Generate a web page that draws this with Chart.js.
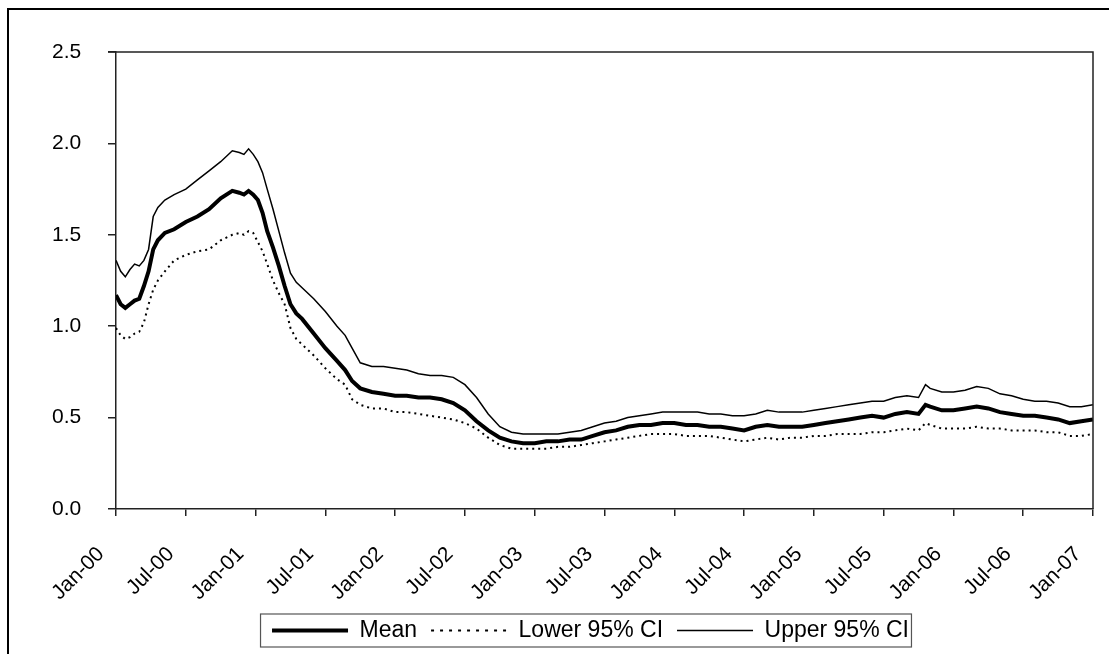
<!DOCTYPE html>
<html>
<head>
<meta charset="utf-8">
<script src="https://cdn.jsdelivr.net/npm/chart.js@4.4.1/dist/chart.umd.min.js"></script>
<style>
html, body { margin: 0; padding: 0; background: #fff; }
</style>
</head>
<body>
<canvas id="chart" width="1109" height="654"></canvas>
<script>
// months since Jan-00
var months = [0, 0.4, 0.8, 1.2, 1.6, 2.0, 2.4, 2.8, 3.2, 3.6, 4.2, 5, 6, 7, 8, 9, 10, 10.6, 11, 11.4, 11.8,
  12.2, 12.6, 13, 13.5, 14, 14.5, 15, 15.5, 16, 17, 18, 19, 19.7, 20.3, 21, 22, 23, 24, 25, 26, 27, 28, 29,
  30, 31, 32, 33, 34, 35, 36, 37, 38, 39, 40, 41, 42, 43, 44, 45, 46, 47, 48, 49, 50, 51, 52, 53, 54, 55,
  56, 57, 58, 59, 60, 61, 62, 63, 64, 65, 66, 67, 68, 69, 69.6, 70, 71, 72, 73, 74, 75, 76, 77, 78, 79, 80,
  81, 82, 83, 84];

var meanVals = [1.17, 1.12, 1.10, 1.12, 1.14, 1.15, 1.22, 1.30, 1.42, 1.47, 1.51, 1.53, 1.57, 1.60, 1.64, 1.70, 1.74, 1.73, 1.72, 1.74, 1.72,
  1.69, 1.62, 1.52, 1.43, 1.33, 1.22, 1.12, 1.07, 1.04, 0.96, 0.88, 0.81, 0.76, 0.70, 0.66, 0.64, 0.63, 0.62, 0.62, 0.61, 0.61, 0.60, 0.58,
  0.54, 0.48, 0.43, 0.39, 0.37, 0.36, 0.36, 0.37, 0.37, 0.38, 0.38, 0.40, 0.42, 0.43, 0.45, 0.46, 0.46, 0.47, 0.47, 0.46, 0.46, 0.45, 0.45, 0.44, 0.43, 0.45,
  0.46, 0.45, 0.45, 0.45, 0.46, 0.47, 0.48, 0.49, 0.50, 0.51, 0.50, 0.52, 0.53, 0.52, 0.57, 0.56, 0.54, 0.54, 0.55, 0.56, 0.55, 0.53, 0.52, 0.51, 0.51, 0.50,
  0.49, 0.47, 0.48, 0.49];

var lowerVals = [0.99, 0.95, 0.93, 0.94, 0.96, 0.97, 1.02, 1.12, 1.20, 1.25, 1.30, 1.36, 1.39, 1.41, 1.42, 1.47, 1.50, 1.51, 1.50, 1.52, 1.51,
  1.46, 1.41, 1.34, 1.25, 1.18, 1.12, 0.99, 0.93, 0.90, 0.84, 0.77, 0.71, 0.68, 0.60, 0.57, 0.55, 0.55, 0.53, 0.53, 0.52, 0.51, 0.50, 0.49,
  0.47, 0.44, 0.39, 0.35, 0.33, 0.33, 0.33, 0.33, 0.34, 0.34, 0.35, 0.36, 0.37, 0.38, 0.39, 0.40, 0.41, 0.41, 0.41, 0.40, 0.40, 0.40, 0.39, 0.38, 0.37, 0.38,
  0.39, 0.38, 0.39, 0.39, 0.40, 0.40, 0.41, 0.41, 0.41, 0.42, 0.42, 0.43, 0.44, 0.43, 0.47, 0.46, 0.44, 0.44, 0.44, 0.45, 0.44, 0.44, 0.43, 0.43, 0.43, 0.42,
  0.42, 0.40, 0.40, 0.41];

var upperVals = [1.36, 1.30, 1.27, 1.31, 1.34, 1.33, 1.36, 1.42, 1.60, 1.65, 1.69, 1.72, 1.75, 1.80, 1.85, 1.90, 1.96, 1.95, 1.94, 1.97, 1.94,
  1.90, 1.84, 1.75, 1.64, 1.52, 1.40, 1.29, 1.24, 1.21, 1.15, 1.08, 1.00, 0.95, 0.88, 0.80, 0.78, 0.78, 0.77, 0.76, 0.74, 0.73, 0.73, 0.72,
  0.68, 0.61, 0.52, 0.45, 0.42, 0.41, 0.41, 0.41, 0.41, 0.42, 0.43, 0.45, 0.47, 0.48, 0.50, 0.51, 0.52, 0.53, 0.53, 0.53, 0.53, 0.52, 0.52, 0.51, 0.51, 0.52,
  0.54, 0.53, 0.53, 0.53, 0.54, 0.55, 0.56, 0.57, 0.58, 0.59, 0.59, 0.61, 0.62, 0.61, 0.68, 0.66, 0.64, 0.64, 0.65, 0.67, 0.66, 0.63, 0.62, 0.60, 0.59, 0.59,
  0.58, 0.56, 0.56, 0.57];

var tickLabels = ['Jan-00', 'Jul-00', 'Jan-01', 'Jul-01', 'Jan-02', 'Jul-02', 'Jan-03', 'Jul-03',
  'Jan-04', 'Jul-04', 'Jan-05', 'Jul-05', 'Jan-06', 'Jul-06', 'Jan-07'];

function toPoints(vals) {
  return vals.map(function(v, i) { return { x: months[i], y: v }; });
}

var frame = {
  id: 'frame',
  beforeDraw: function(chart) {
    var ctx = chart.ctx;
    ctx.save();
    ctx.fillStyle = '#fff';
    ctx.fillRect(0, 0, chart.width, chart.height);
    ctx.fillStyle = '#000';
    ctx.fillRect(7, 8, chart.width - 7, 2);
    ctx.fillRect(7, 8, 2, chart.height - 8);
    ctx.restore();
  },
  afterDraw: function(chart) {
    var ctx = chart.ctx, a = chart.chartArea;
    ctx.save();
    ctx.strokeStyle = '#222';
    ctx.lineWidth = 1.5;
    ctx.beginPath();
    ctx.moveTo(a.left - 8, a.top);
    ctx.lineTo(a.right, a.top);
    ctx.lineTo(a.right, a.bottom);
    ctx.stroke();
    var hb = chart.legend.legendHitBoxes;
    if (hb && hb.length) {
      var first = hb[0], last = hb[hb.length - 1];
      var cy = first.top + first.height / 2;
      ctx.strokeStyle = '#555';
      ctx.lineWidth = 1.2;
      ctx.strokeRect(first.left - 11.5, cy - 16.5, last.left + last.width - first.left + 14, 33);
    }
    ctx.restore();
  }
};

new Chart(document.getElementById('chart'), {
  type: 'line',
  data: {
    datasets: [
      { label: 'Mean', data: toPoints(meanVals), borderColor: '#000', backgroundColor: '#000', borderWidth: 4, pointRadius: 0 },
      { label: 'Lower 95% CI', data: toPoints(lowerVals), borderColor: '#000', backgroundColor: '#000', borderWidth: 2, borderDash: [2, 4], pointRadius: 0 },
      { label: 'Upper 95% CI', data: toPoints(upperVals), borderColor: '#000', backgroundColor: '#000', borderWidth: 1.5, pointRadius: 0 }
    ]
  },
  options: {
    responsive: false,
    animation: false,
    layout: { padding: { top: 52, left: 88, right: 16, bottom: 2 } },
    plugins: {
      tooltip: { enabled: false },
      legend: {
        position: 'bottom',
        labels: {
          usePointStyle: true,
          pointStyle: 'line',
          pointStyleWidth: 76,
          padding: 14,
          color: '#000',
          font: { family: 'Liberation Sans', size: 23 },
          generateLabels: function(chart) {
            var items = Chart.defaults.plugins.legend.labels.generateLabels(chart);
            items.forEach(function(it) {
              var ds = chart.data.datasets[it.datasetIndex];
              it.lineWidth = ds.borderWidth;
              it.lineDash = ds.borderDash ? [3, 6] : [];
            });
            return items;
          }
        }
      }
    },
    scales: {
      x: {
        type: 'linear',
        min: 0,
        max: 84,
        afterFit: function(scale) { scale.height = 96; scale.paddingLeft = 0; scale.paddingRight = 0; },
        ticks: {
          stepSize: 6,
          autoSkip: false,
          minRotation: 45,
          maxRotation: 45,
          labelOffset: -15,
          padding: 26,
          color: '#000',
          font: { family: 'Liberation Sans', size: 21 },
          callback: function(v) { return tickLabels[Math.round(v / 6)]; }
        },
        grid: { drawOnChartArea: false, tickLength: 7, color: '#222', lineWidth: 1.5 },
        border: { color: '#222', width: 1.5 }
      },
      y: {
        min: 0,
        max: 2.5,
        afterFit: function(scale) { scale.width = 28; },
        ticks: {
          stepSize: 0.5,
          mirror: true,
          crossAlign: 'far',
          padding: -64,
          color: '#000',
          font: { family: 'Liberation Sans', size: 21 },
          callback: function(v) { return v.toFixed(1); }
        },
        grid: { drawOnChartArea: false, tickLength: 8, color: '#222', lineWidth: 1.5 },
        border: { color: '#222', width: 1.5 }
      }
    }
  },
  plugins: [frame]
});
</script>
</body>
</html>
